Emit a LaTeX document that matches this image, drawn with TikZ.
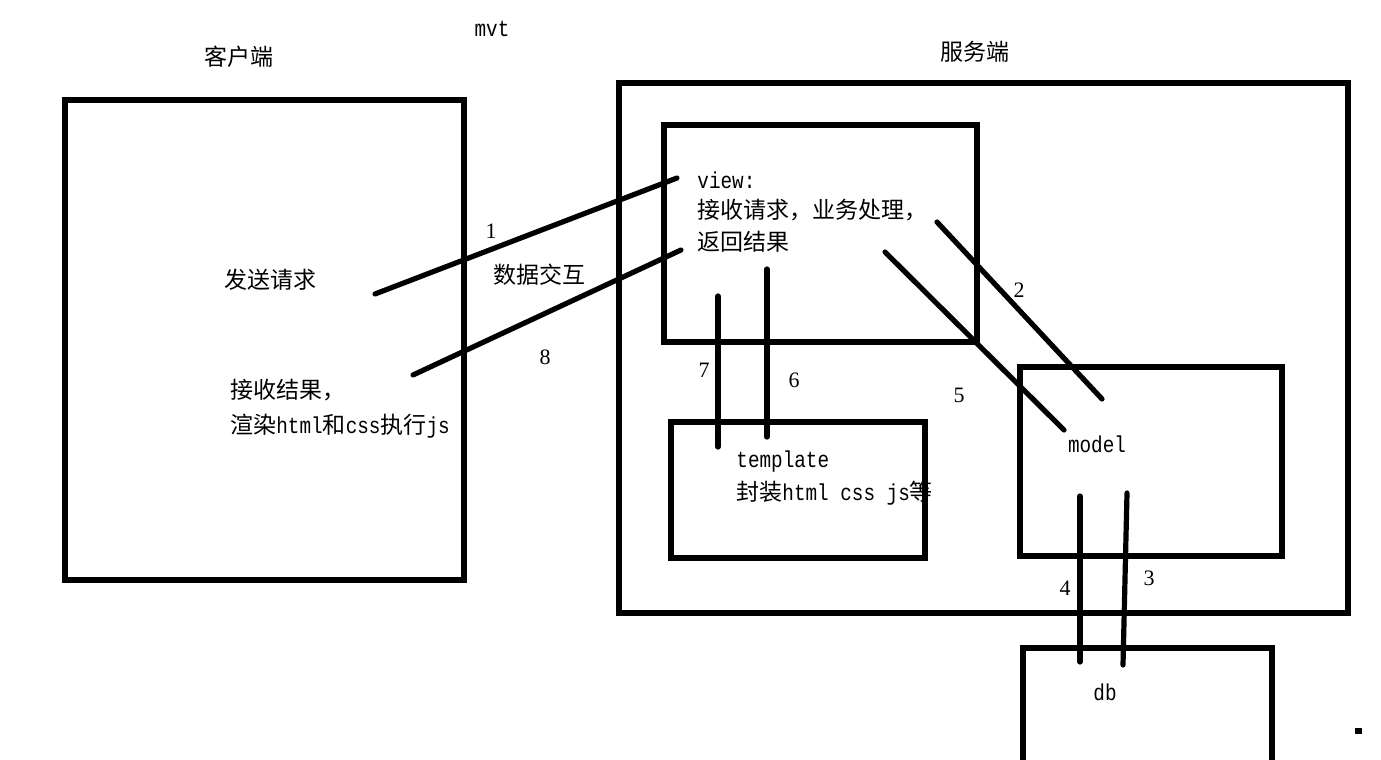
\documentclass[tikz,border=0pt]{standalone}
\usepackage{fontspec}
\setmainfont{Liberation Mono}[FakeStretch=0.84]
\newfontfamily\cjk{Noto Sans CJK SC}
\newfontfamily\numf{Liberation Serif}
\begin{document}
\begin{tikzpicture}[x=0.5pt,y=-0.5pt,
  boxline/.style={line width=2.6pt},
  conn/.style={line width=2.6pt,line cap=round},
  txt/.style={inner sep=0pt,font=\fontsize{11.5}{15}\selectfont},
  lbl/.style={txt,anchor=west},
  num/.style={inner sep=0pt,font=\numf\fontsize{11}{13}\selectfont}]
\useasboundingbox (0,0) rectangle (1381,760);
\clip (0,0) rectangle (1381,760);
% boxes
\draw[boxline] (65,100) rectangle (464,580);
\draw[boxline] (619,83) rectangle (1348,613);
\draw[boxline] (664,125) rectangle (977,342);
\draw[boxline] (671,422) rectangle (925,558);
\draw[boxline] (1020,367) rectangle (1282,556);
\draw[boxline] (1023,790) -- (1023,648) -- (1272,648) -- (1272,790);
\fill (1355,728) rectangle (1362,734);
% titles
\node[txt] (client) at (239,57) {\cjk 客户端};
\node[txt] (mvt) at (492,29) {mvt};
\node[txt] (server) at (975,52) {\cjk 服务端};
% client texts
\node[lbl] (send) at (224,280) {\cjk 发送请求};
\node[lbl] (recv1) at (230,390) {\cjk 接收结果，};
\node[lbl] (recv2) at (230,426) {{\cjk 渲染}html{\cjk 和}css{\cjk 执行}js};
\node[txt] (data) at (539,275) {\cjk 数据交互};
% view texts
\node[lbl] (v1) at (697,180) {view:};
\node[lbl] (v2) at (697,210) {\cjk 接收请求，业务处理，};
\node[lbl] (v3) at (697,242) {\cjk 返回结果};
% template
\node[lbl] (t1) at (736,462) {template};
\node[lbl] (t2) at (736,493) {{\cjk 封装}html css js{\cjk 等}};
\node[txt] (model) at (1097,444) {model};
\node[txt] (db) at (1105,692) {db};
% numbers
\node[num] (n1) at (491,231) {1};
\node[num] (n8) at (545,357) {8};
\node[num] (n7) at (704,370) {7};
\node[num] (n6) at (794,380) {6};
\node[num] (n5) at (959,395) {5};
\node[num] (n2) at (1019,290) {2};
\node[num] (n4) at (1065,588) {4};
\node[num] (n3) at (1149,578) {3};
% connector end points
\coordinate (a1) at (375,294); \coordinate (b1) at (677,178);
\coordinate (a8) at (413,375); \coordinate (b8) at (681,250);
\coordinate (a7) at (718,296); \coordinate (b7) at (718,447);
\coordinate (a6) at (767,269); \coordinate (b6) at (767,437);
\coordinate (a2) at (937,222); \coordinate (b2) at (1102,399);
\coordinate (a5) at (885,252); \coordinate (b5) at (1064,430);
\coordinate (a4) at (1080,496); \coordinate (b4) at (1080,662);
\coordinate (a3) at (1127,493); \coordinate (b3) at (1123,665);
\foreach \k in {1,8,7,6,2,5,4,3} \draw[conn] (a\k) -- (b\k);
\end{tikzpicture}
\end{document}
